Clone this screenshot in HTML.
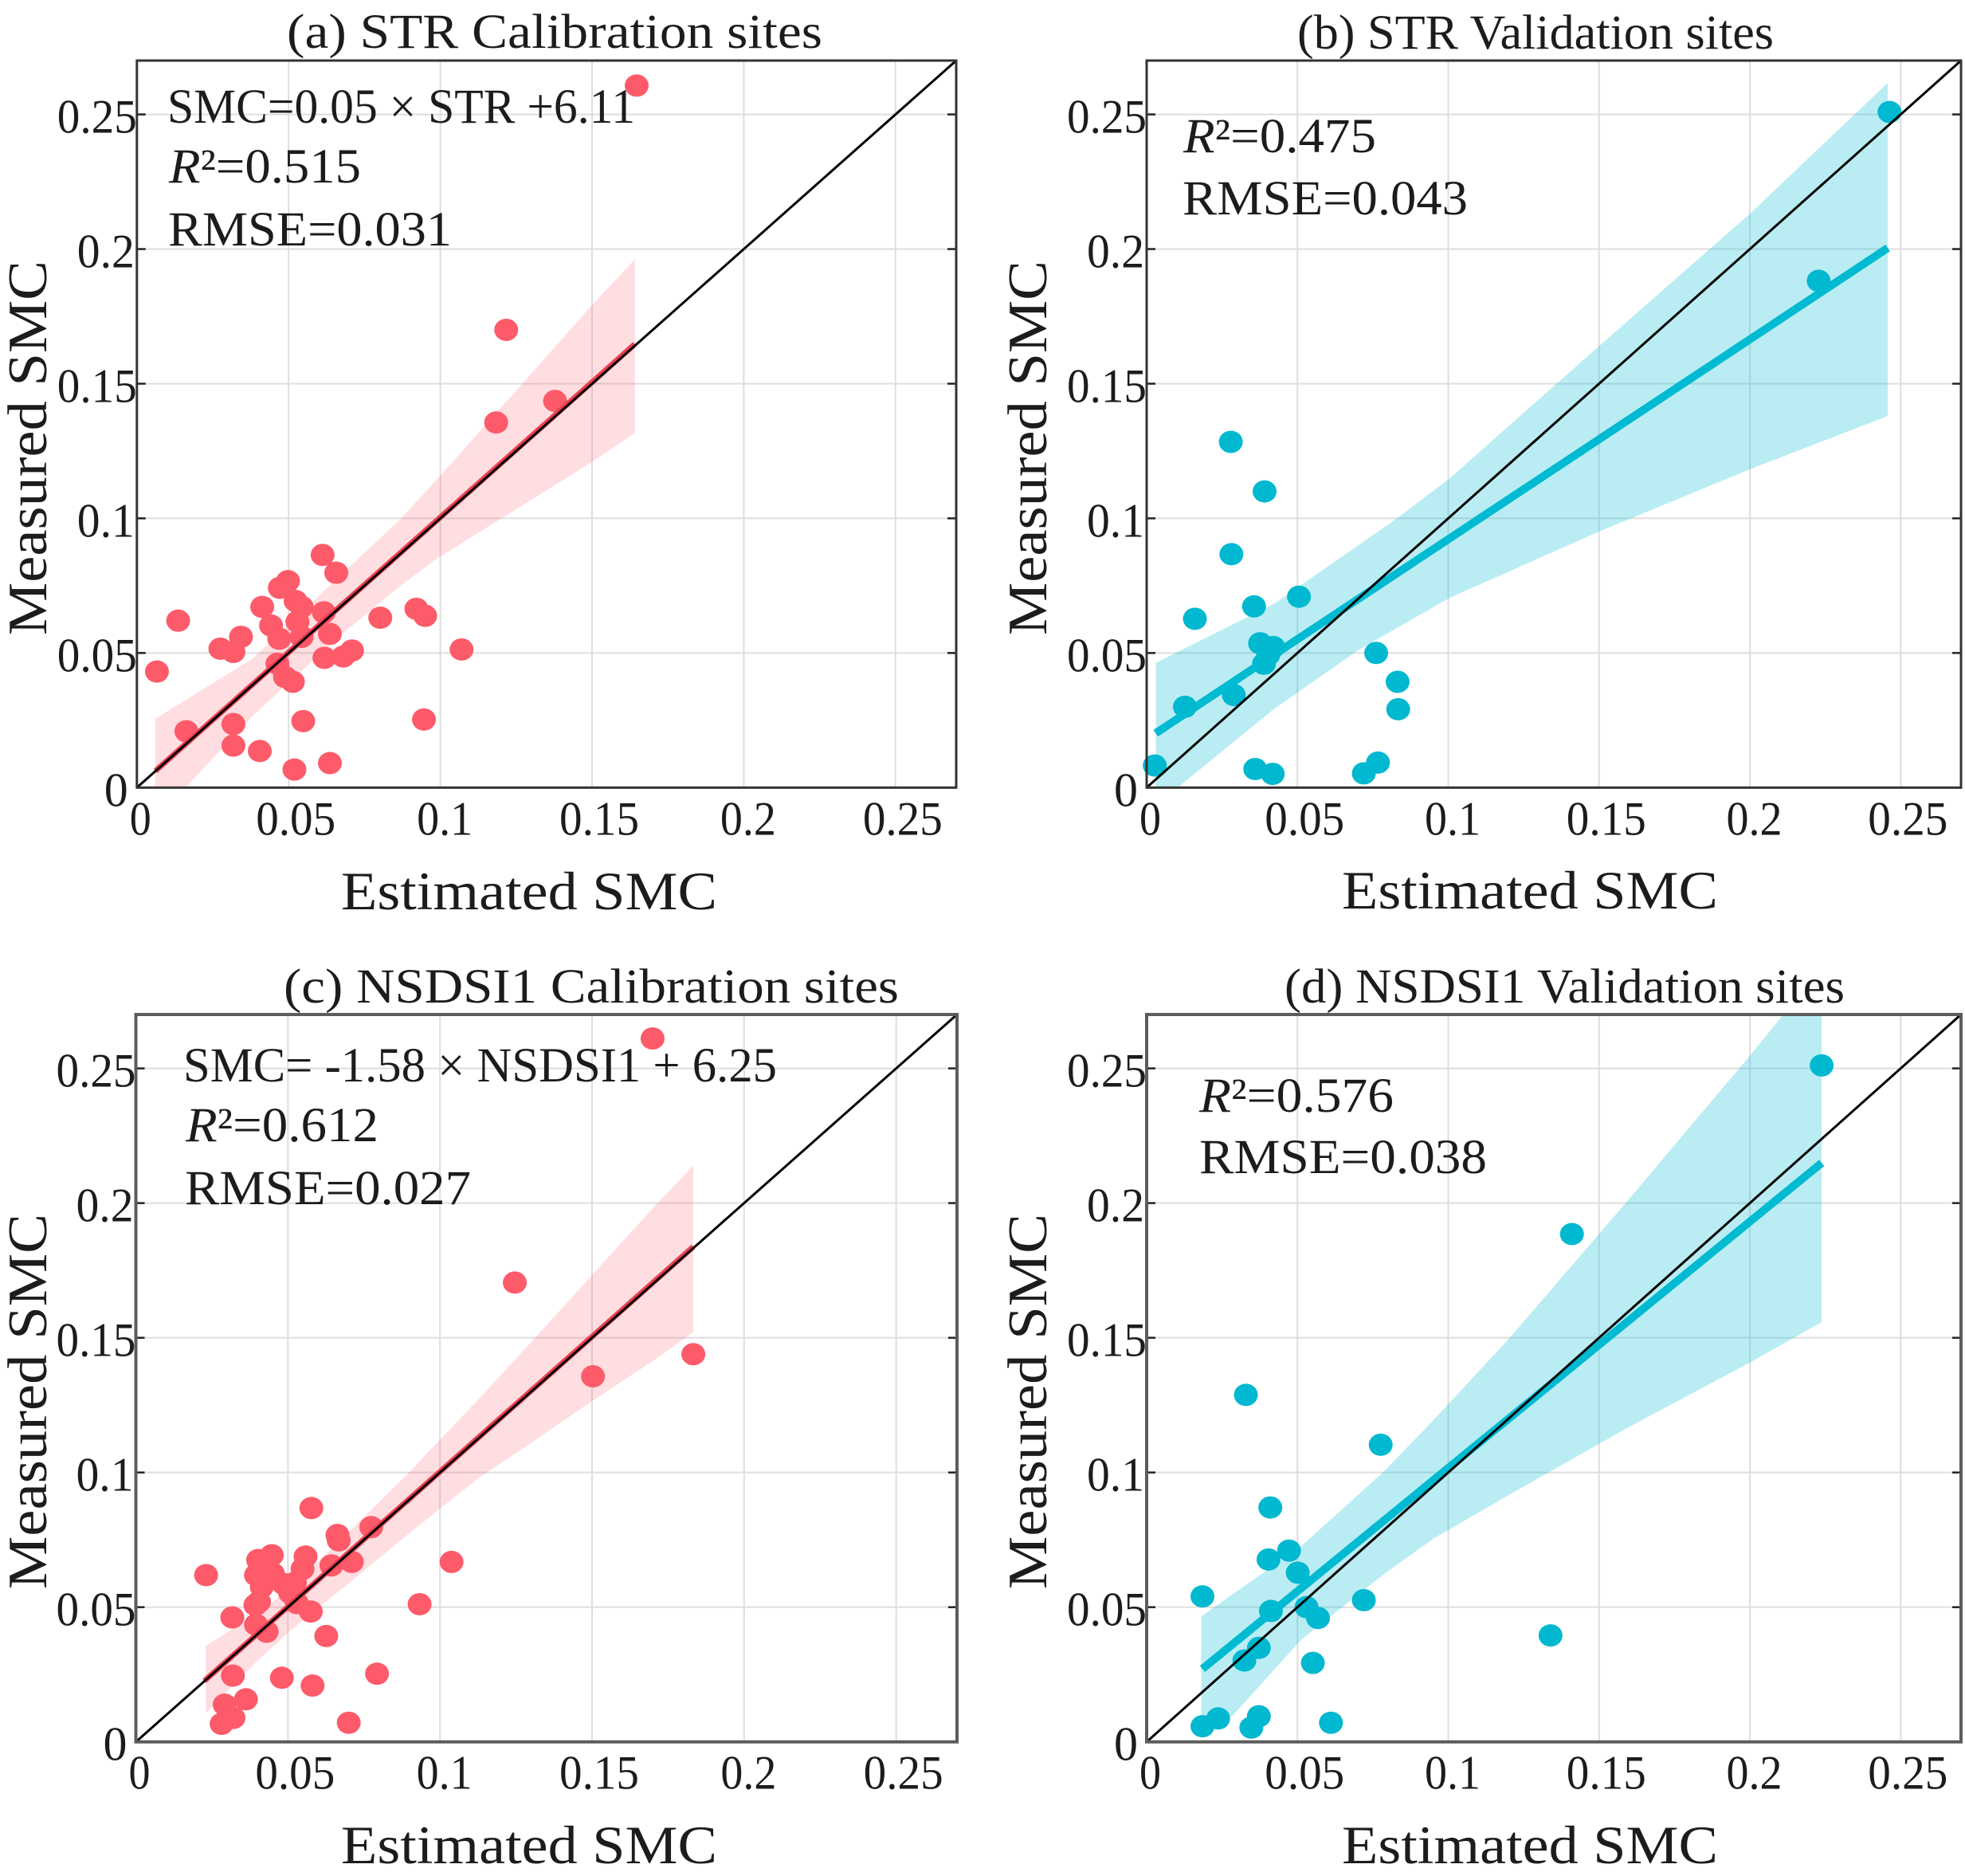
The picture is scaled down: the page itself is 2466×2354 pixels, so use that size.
<!DOCTYPE html>
<html lang="en">
<head>
<meta charset="utf-8">
<title>Estimated vs measured SMC scatter plots</title>
<style>
  html, body { margin: 0; padding: 0; background: #fff; }
  svg { display: block; }
  text { font-family: "Liberation Serif", serif; fill: #1c1c1c; }
</style>
</head>
<body>
<svg id="figure" xmlns="http://www.w3.org/2000/svg" width="2466" height="2354" viewBox="0 0 2466 2354">
  <rect x="0" y="0" width="2466" height="2354" fill="#fff"/>
  <g id="plots"></g>

  <text x="360" y="60" font-size="61" textLength="672" lengthAdjust="spacingAndGlyphs">(a) STR Calibration sites</text>
  <text x="1628" y="61" font-size="61" textLength="598" lengthAdjust="spacingAndGlyphs">(b) STR Validation sites</text>
  <text x="356" y="1258" font-size="61" textLength="772" lengthAdjust="spacingAndGlyphs">(c) NSDSI1 Calibration sites</text>
  <text x="1612" y="1258" font-size="61" textLength="703" lengthAdjust="spacingAndGlyphs">(d) NSDSI1 Validation sites</text>

  <text x="210" y="154" font-size="61" textLength="587" lengthAdjust="spacingAndGlyphs">SMC=0.05 × STR +6.11</text>
  <text x="212" y="229" font-size="61" textLength="241" lengthAdjust="spacingAndGlyphs"><tspan font-style="italic">R</tspan>²=0.515</text>
  <text x="211" y="308" font-size="61" textLength="356" lengthAdjust="spacingAndGlyphs">RMSE=0.031</text>

  <text x="1485" y="191" font-size="61" textLength="242" lengthAdjust="spacingAndGlyphs"><tspan font-style="italic">R</tspan>²=0.475</text>
  <text x="1484" y="269" font-size="61" textLength="358" lengthAdjust="spacingAndGlyphs">RMSE=0.043</text>

  <text x="230" y="1357" font-size="61" textLength="745" lengthAdjust="spacingAndGlyphs">SMC= -1.58 × NSDSI1 + 6.25</text>
  <text x="233" y="1432" font-size="61" textLength="242" lengthAdjust="spacingAndGlyphs"><tspan font-style="italic">R</tspan>²=0.612</text>
  <text x="232" y="1511" font-size="61" textLength="359" lengthAdjust="spacingAndGlyphs">RMSE=0.027</text>

  <text x="1505" y="1395" font-size="61" textLength="244" lengthAdjust="spacingAndGlyphs"><tspan font-style="italic">R</tspan>²=0.576</text>
  <text x="1505" y="1472" font-size="61" textLength="361" lengthAdjust="spacingAndGlyphs">RMSE=0.038</text>

  <text x="428" y="1141" font-size="68" textLength="472" lengthAdjust="spacingAndGlyphs">Estimated SMC</text>
  <text x="1684" y="1140" font-size="68" textLength="472" lengthAdjust="spacingAndGlyphs">Estimated SMC</text>
  <text x="428" y="2338" font-size="68" textLength="472" lengthAdjust="spacingAndGlyphs">Estimated SMC</text>
  <text x="1684" y="2338" font-size="68" textLength="472" lengthAdjust="spacingAndGlyphs">Estimated SMC</text>

  <text transform="translate(58 797) rotate(-90)" font-size="70" textLength="470" lengthAdjust="spacingAndGlyphs">Measured SMC</text>
  <text transform="translate(1313 797) rotate(-90)" font-size="70" textLength="470" lengthAdjust="spacingAndGlyphs">Measured SMC</text>
  <text transform="translate(58 1994) rotate(-90)" font-size="70" textLength="471" lengthAdjust="spacingAndGlyphs">Measured SMC</text>
  <text transform="translate(1313 1994) rotate(-90)" font-size="70" textLength="471" lengthAdjust="spacingAndGlyphs">Measured SMC</text>
</svg>

<script>
const tickValues = [0, 0.05, 0.1, 0.15, 0.2, 0.25];
const tickLabels = ["0", "0.05", "0.1", "0.15", "0.2", "0.25"];
const axisMax = 0.27;

const estimatedA = [0.1647,0.1217,0.1378,0.1184,0.0612,0.0657,0.0498,0.0471,0.0413,0.0523,0.0543,0.0616,0.0136,0.0442,0.0529,0.0343,0.0469,0.0543,0.0636,0.0802,0.0921,0.095,0.0275,0.0318,0.0709,0.068,0.0618,0.107,0.0066,0.0463,0.0488,0.0514,0.0163,0.0318,0.0548,0.0946,0.0318,0.0405,0.0636,0.0519];
const measuredA = [0.2607,0.170,0.1436,0.1356,0.0864,0.0798,0.0767,0.0742,0.0671,0.0693,0.0671,0.0651,0.062,0.0602,0.0616,0.056,0.0553,0.056,0.0571,0.0631,0.0664,0.0638,0.0516,0.0504,0.0509,0.0487,0.0482,0.0513,0.0431,0.046,0.0411,0.0393,0.0209,0.0236,0.0247,0.0253,0.0156,0.0136,0.0091,0.0067];
const fitXA = [0.0061, 0.1641];
const fitYA = [0.0062, 0.1647];
const bandXA = [0.0061,0.038,0.0686,0.0869,0.0992,0.1273,0.1498,0.1641];
const bandUpperA = [0.0256,0.0478,0.0804,0.0998,0.1149,0.1504,0.179,0.1962];
const bandLowerA = [-0.012,0.0265,0.058,0.075,0.0853,0.105,0.1208,0.1317];

const estimatedB = [0.2463,0.2228,0.0279,0.0391,0.0281,0.0505,0.0356,0.016,0.0376,0.042,0.0389,0.0403,0.0761,0.0832,0.0834,0.0127,0.0289,0.0027,0.036,0.0418,0.072,0.0767];
const measuredB = [0.2509,0.1882,0.1284,0.11,0.0867,0.0709,0.0673,0.0627,0.0536,0.0522,0.046,0.0493,0.05,0.0393,0.0291,0.03,0.0344,0.0082,0.0069,0.0051,0.0053,0.0093];
const fitXB = [0.003, 0.2457];
const fitYB = [0.0202, 0.2004];
const bandXB = [0.003,0.0426,0.0698,0.083,0.1005,0.15,0.2,0.2457];
const bandUpperB = [0.0463,0.0685,0.0897,0.1,0.1149,0.164,0.2131,0.2617];
const bandLowerB = [-0.0066,0.0295,0.0508,0.0593,0.0705,0.0951,0.1182,0.138];

const estimatedC = [0.1699,0.1246,0.1833,0.1503,0.0577,0.0774,0.0663,0.0667,0.0447,0.0402,0.0558,0.0548,0.1038,0.0643,0.071,0.0231,0.0395,0.0451,0.0414,0.0486,0.0523,0.0507,0.0529,0.0393,0.0405,0.0933,0.0317,0.0575,0.0395,0.043,0.0626,0.0319,0.048,0.0793,0.0581,0.0292,0.0362,0.0321,0.0282,0.07];
const measuredC = [0.2611,0.1705,0.1439,0.1357,0.0868,0.0797,0.0768,0.0748,0.0693,0.0675,0.0688,0.0642,0.0668,0.0655,0.0668,0.0619,0.0619,0.0624,0.0575,0.0586,0.0591,0.0553,0.0515,0.0508,0.052,0.0511,0.0462,0.0484,0.0435,0.0409,0.0393,0.0246,0.0238,0.0253,0.0209,0.0138,0.0158,0.0089,0.0067,0.0071];
const fitXC = [0.0225, 0.1833];
const fitYC = [0.0226, 0.1838];
const bandXC = [0.023,0.0383,0.0506,0.0706,0.0889,0.1125,0.1313,0.15,0.1715,0.1833];
const bandUpperC = [0.0357,0.0465,0.0567,0.0786,0.099,0.127,0.15,0.1733,0.2,0.2139];
const bandLowerC = [0.0106,0.0283,0.0411,0.0595,0.0765,0.0978,0.112,0.1265,0.1425,0.1521];

const estimatedD = [0.2238,0.141,0.0329,0.0776,0.041,0.0472,0.0404,0.0501,0.0185,0.072,0.0412,0.053,0.0568,0.1339,0.0372,0.0324,0.0551,0.0237,0.0185,0.0372,0.0347,0.0611];
const measuredD = [0.2511,0.1885,0.1288,0.1103,0.087,0.071,0.0677,0.0628,0.054,0.0526,0.0486,0.05,0.046,0.0395,0.0349,0.0302,0.0293,0.0087,0.0058,0.0095,0.0053,0.0071];
const fitXD = [0.0185, 0.2238];
const fitYD = [0.0271, 0.2149];
const bandXD = [0.0181,0.0285,0.0513,0.0786,0.0953,0.1204,0.1588,0.2,0.2238];
const bandUpperD = [0.0466,0.0548,0.0727,0.1003,0.1197,0.15,0.2,0.2547,0.2875];
const bandLowerD = [0.006,0.0097,0.038,0.0622,0.0756,0.0918,0.1162,0.1408,0.1558];

const NS = "http://www.w3.org/2000/svg";
const plots = document.getElementById("plots");

function make(tag, attrs, parent) {
  const node = document.createElementNS(NS, tag);
  for (const key in attrs) node.setAttribute(key, attrs[key]);
  parent.appendChild(node);
  return node;
}

function drawPanel(p) {
  const xScale = function (v) { return p.left + (v / axisMax) * (p.right - p.left); };
  const yScale = function (v) { return p.bottom - (v / axisMax) * (p.bottom - p.top); };

  const group = make("g", {}, plots);
  
  

  const clip = make("clipPath", { id: "clip-" + p.id }, group);
  make("rect", { x: p.left, y: p.top, width: p.right - p.left, height: p.bottom - p.top }, clip);

  tickValues.forEach(function (t, i) {
    const vGrid = make("line", { x1: xScale(t), x2: xScale(t), y1: p.top, y2: p.bottom, stroke: "#dedede", "stroke-width": 2 }, group);
    
    
    const hGrid = make("line", { x1: p.left, x2: p.right, y1: yScale(t), y2: yScale(t), stroke: "#dedede", "stroke-width": 2 }, group);
    
    
  });

  const upperPts = p.bandX.map(function (x, i) { return xScale(x).toFixed(1) + "," + yScale(p.bandUpper[i]).toFixed(1); });
  const lowerPts = p.bandX.map(function (x, i) { return xScale(x).toFixed(1) + "," + yScale(p.bandLower[i]).toFixed(1); }).reverse();
  const band = make("polygon", { points: upperPts.concat(lowerPts).join(" "), fill: p.bandFill, "clip-path": "url(#clip-" + p.id + ")" }, group);
  
  

  p.estimated.forEach(function (x, i) {
    const dot = make("ellipse", { cx: xScale(x), cy: yScale(p.measured[i]), rx: 15, ry: 14, fill: p.color }, group);
    
    
  });

  const fit = make("line", { x1: xScale(p.fitX[0]), y1: yScale(p.fitY[0]), x2: xScale(p.fitX[1]), y2: yScale(p.fitY[1]), stroke: p.fitColor, "stroke-width": p.fitWidth }, group);
  
  

  const identity = make("line", { x1: xScale(0), y1: yScale(0), x2: xScale(axisMax), y2: yScale(axisMax), stroke: "#000", "stroke-width": 3 }, group);
  
  

  tickValues.forEach(function (t, i) {
    const y = yScale(t);
    const leftTick = make("line", { x1: p.left, x2: p.left + 11, y1: y, y2: y, stroke: "#222", "stroke-width": 2.5 }, group);
    
    
    const rightTick = make("line", { x1: p.right - 11, x2: p.right, y1: y, y2: y, stroke: "#222", "stroke-width": 2.5 }, group);
    
    

    const label = tickLabels[i];
    const xOffset = label.length === 1 ? -9 : label.length === 3 ? -29.5 : -41;
    const xWidth = label.length === 1 ? 27 : label.length === 3 ? 70 : 100;
    const xLabel = make("text", { x: xScale(t) + xOffset, y: p.bottom + 59, "font-size": 60, textLength: xWidth, lengthAdjust: "spacingAndGlyphs" }, group);
    xLabel.textContent = label;
    
    

    const yOffset = label.length === 1 ? -41 : label.length === 3 ? -75 : -100;
    const yWidth = label.length === 1 ? 30 : label.length === 3 ? 72 : 100;
    const yLabel = make("text", { x: p.left + yOffset, y: y + 23, "font-size": 60, textLength: yWidth, lengthAdjust: "spacingAndGlyphs" }, group);
    yLabel.textContent = label;
    
    
  });

  const frame = make("rect", { x: p.left, y: p.top, width: p.right - p.left, height: p.bottom - p.top, fill: "none", stroke: p.frameColor, "stroke-width": p.frameWidth }, group);
  
  
}

const RED = "#fd5a6a", CYAN = "#00b8d0";
const RED_BAND = "rgba(255,90,106,0.2)", CYAN_BAND = "rgba(0,188,212,0.27)";

drawPanel({ id: "a", left: 171.8, right: 1200, top: 76, bottom: 988.3, estimated: estimatedA, measured: measuredA, fitX: fitXA, fitY: fitYA, bandX: bandXA, bandUpper: bandUpperA, bandLower: bandLowerA, color: RED, fitColor: "#e9404f", fitWidth: 7, bandFill: RED_BAND, frameColor: "#333", frameWidth: 3 });
drawPanel({ id: "b", left: 1439, right: 2461, top: 76, bottom: 988.3, estimated: estimatedB, measured: measuredB, fitX: fitXB, fitY: fitYB, bandX: bandXB, bandUpper: bandUpperB, bandLower: bandLowerB, color: CYAN, fitColor: "#00bad2", fitWidth: 10, bandFill: CYAN_BAND, frameColor: "#333", frameWidth: 3 });
drawPanel({ id: "c", left: 170.5, right: 1201, top: 1273, bottom: 2185.7, estimated: estimatedC, measured: measuredC, fitX: fitXC, fitY: fitYC, bandX: bandXC, bandUpper: bandUpperC, bandLower: bandLowerC, color: RED, fitColor: "#e9404f", fitWidth: 7, bandFill: RED_BAND, frameColor: "#5c5c5c", frameWidth: 4 });
drawPanel({ id: "d", left: 1439, right: 2461, top: 1273, bottom: 2185.7, estimated: estimatedD, measured: measuredD, fitX: fitXD, fitY: fitYD, bandX: bandXD, bandUpper: bandUpperD, bandLower: bandLowerD, color: CYAN, fitColor: "#00bad2", fitWidth: 10, bandFill: CYAN_BAND, frameColor: "#5c5c5c", frameWidth: 4 });
</script>
</body>
</html>
